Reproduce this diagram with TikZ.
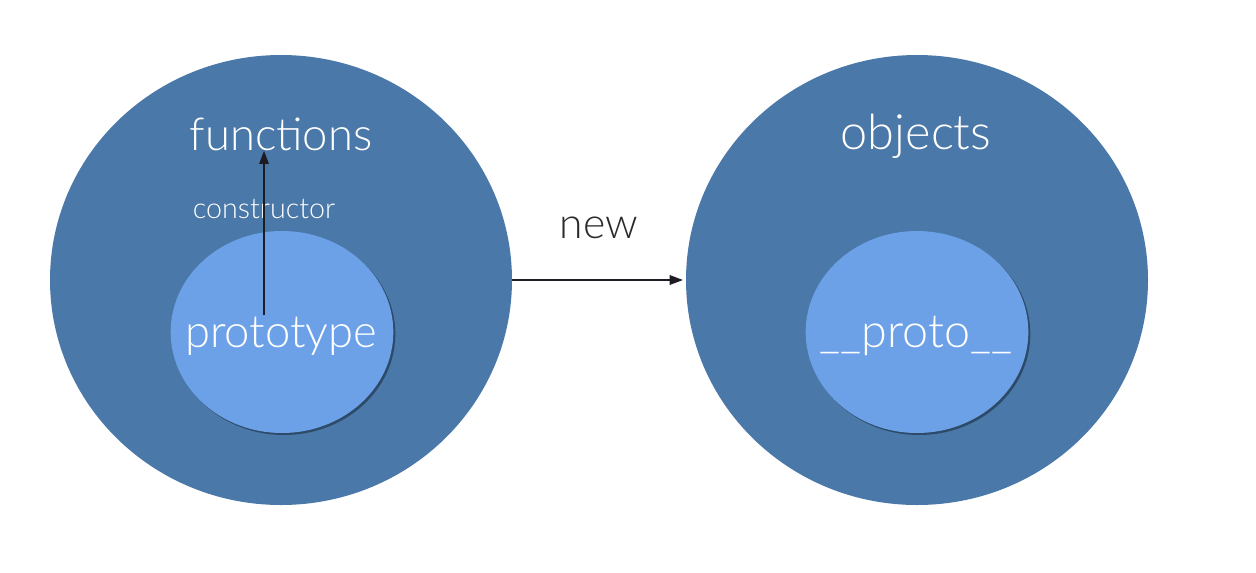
\documentclass[tikz,border=0pt]{standalone}
\usepackage{fontspec}
\setmainfont{Lato Light}
\usetikzlibrary{arrows.meta,shapes.geometric}
\definecolor{outerblue}{HTML}{4A78A8}
\definecolor{innerblue}{HTML}{6CA1E8}
\definecolor{rimshade}{HTML}{2D4A68}
\definecolor{inkdark}{HTML}{1C1C22}
\definecolor{labelgray}{HTML}{2A2A2A}
\begin{document}
\begin{tikzpicture}[x=0.75pt,y=-0.75pt,
  outer/.style={ellipse,fill=outerblue,minimum width=346.5pt,minimum height=337.5pt,inner sep=0pt},
  inner/.style={ellipse,fill=innerblue,minimum width=167pt,minimum height=151.5pt,inner sep=0pt},
  rim/.style={ellipse,fill=rimshade,minimum width=167pt,minimum height=151.5pt,inner sep=0pt},
  title/.style={text=white,font=\fontsize{34}{38}\selectfont,anchor=base,inner sep=0pt},
  small/.style={text=white,font=\fontsize{21.5}{24}\selectfont,anchor=base,inner sep=0pt},
  link/.style={line width=1.5pt,draw=inkdark,-{Triangle[length=10pt,width=7pt]}}]
  % canvas
  \path[fill=white] (0,0) rectangle (1256,572);
  \useasboundingbox (0,0) rectangle (1256,572);

  % outer sets
  \node[outer] (fset) at (281,280) {};
  \node[outer] (oset) at (917,280) {};

  % inner sets with a faint shaded rim
  \node[rim] (fshade) at (284,334) {};
  \node[inner] (pset) at (282,332) {};
  \node[rim] (oshade) at (919,334) {};
  \node[inner] (qset) at (917,332) {};

  % labels
  \node[title] (funcs) at (281,150) {functions};
  \node[small] (ctor) at (264,218) {constructor};
  \node[title] (proto) at (281,347) {prototype};
  \node[title,font=\fontsize{36.5}{40}\selectfont] (objs) at (916,149) {objects};
  \node[title,font=\fontsize{35}{38}\selectfont] (dproto) at (916,347) {\_\_proto\_\_};
  \node[text=labelgray,font=\fontsize{32}{36}\selectfont,anchor=base,inner sep=0pt] (newlbl) at (599,238) {new};

  % constructor link
  \coordinate (cfoot) at (264,315);
  \draw[link] (cfoot) -- (cfoot |- funcs.south);

  % new link
  \draw[link,shorten >=2pt] (fset.east) -- (oset.west);
\end{tikzpicture}
\end{document}
